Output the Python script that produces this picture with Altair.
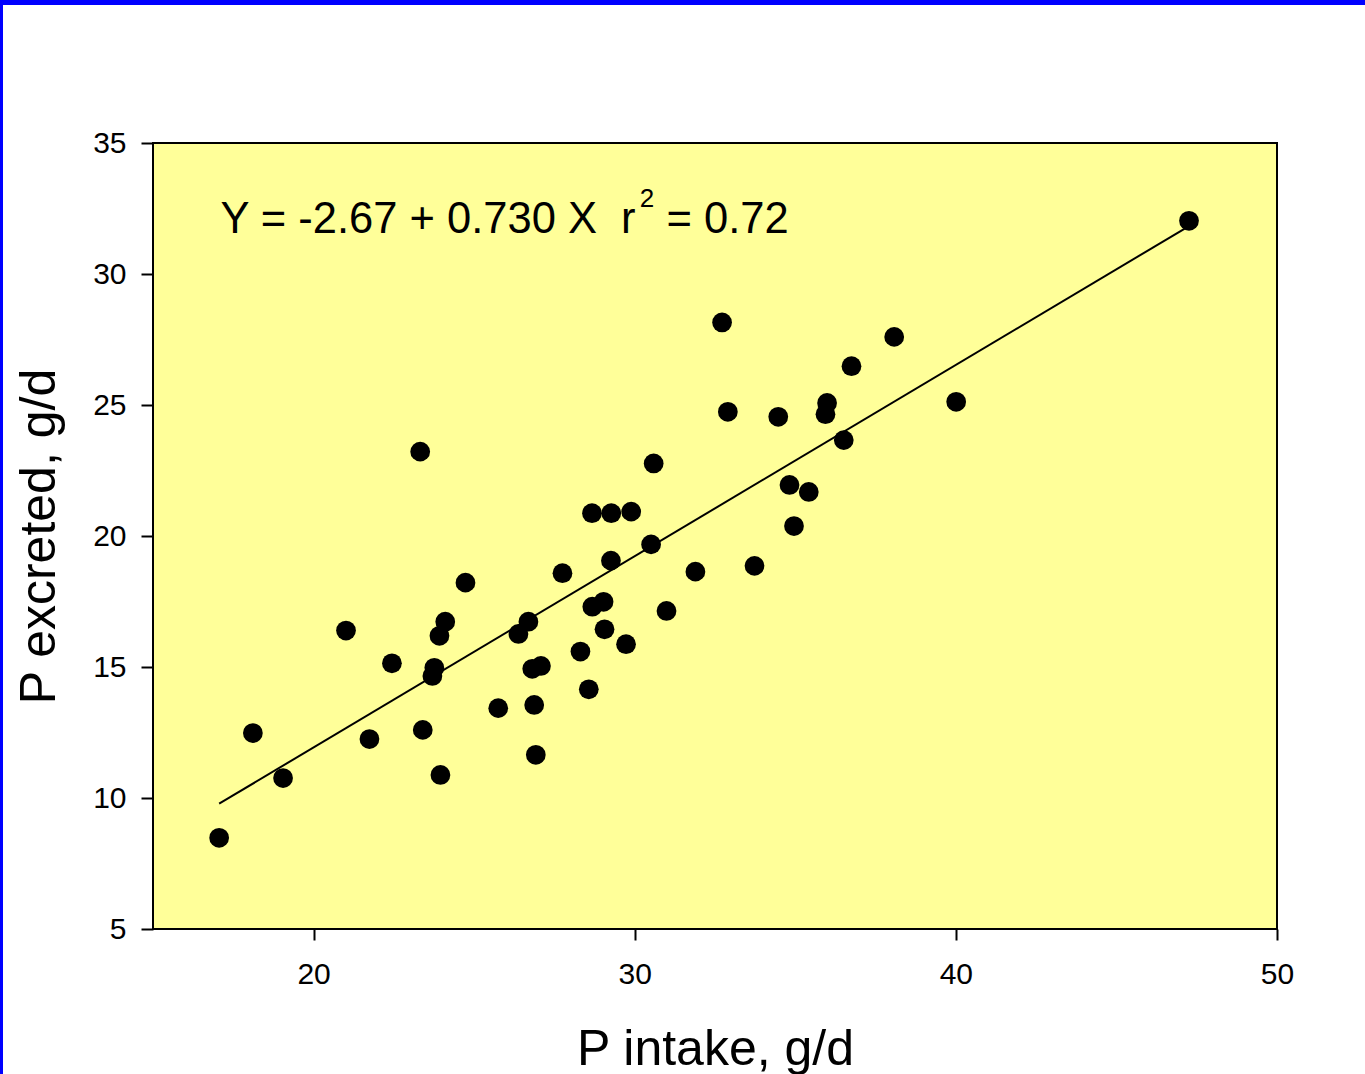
import altair as alt
import pandas as pd

# ---- data ----
p_intake = [17.06, 18.11, 19.05, 21.01, 21.74, 22.44, 23.32, 23.40, 23.76, 23.70,
            23.92, 23.95, 24.10, 24.73, 25.75, 26.38, 26.69, 26.81, 26.87, 27.08,
            26.92, 27.75, 28.31, 28.57, 28.67, 28.68, 29.03, 29.06, 29.27, 29.26,
            29.73, 29.89, 30.51, 30.59, 30.99, 31.89, 32.72, 32.90, 33.73, 34.47,
            34.82, 34.96, 35.42, 35.94, 35.99, 36.51, 36.75, 38.08, 40.01, 47.26]
p_excreted = [8.48, 12.48, 10.76, 16.39, 12.25, 15.14, 23.22, 12.60, 14.97, 14.66,
              16.19, 10.88, 16.73, 18.22, 13.43, 16.26, 16.73, 14.93, 13.55, 15.04,
              11.65, 18.58, 15.59, 14.15, 20.87, 17.30, 17.49, 16.44, 20.87, 19.06,
              15.87, 20.93, 19.68, 22.77, 17.14, 18.64, 28.15, 24.74, 18.86, 24.55,
              21.95, 20.38, 21.68, 24.65, 25.08, 23.66, 26.48, 27.60, 25.12, 32.03]

intercept = -2.67
slope = 0.730

eq_main = ["Y = -2.67 + 0.730 X\u00a0\u00a0r", "\u00a0= 0.72"]
eq_main_x = [17.10, 30.99]
eq_main_y = [31.56, 31.56]
eq_sup = ["2"]
eq_sup_x = [30.16]
eq_sup_y = [32.55]

x_ticks = [20, 30, 40, 50]
y_ticks = [5, 10, 15, 20, 25, 30, 35]

FONT = "Liberation Sans"
W, H = 1124, 786
PAD = {"left": 153, "top": 143, "right": 88, "bottom": 145}

df = pd.DataFrame({"intake": p_intake, "excreted": p_excreted})
line_df = pd.DataFrame({"intake": [min(p_intake), max(p_intake)]})
main_df = pd.DataFrame({"intake": eq_main_x, "excreted": eq_main_y, "label": eq_main})
sup_df = pd.DataFrame({"intake": eq_sup_x, "excreted": eq_sup_y, "label": eq_sup})
one = pd.DataFrame({"k": [0]})

xscale = alt.Scale(domain=[15, 50], nice=False, zero=False)
yscale = alt.Scale(domain=[5, 35], nice=False, zero=False)

X = alt.X("intake:Q", scale=xscale,
          axis=alt.Axis(values=x_ticks, title="P intake, g/d", grid=False, domain=False,
                        tickSize=11, tickWidth=2, tickColor="black", labelFlush=False,
                        labelFont=FONT, labelFontSize=30, labelColor="black", labelPadding=19,
                        titleFont=FONT, titleFontSize=50, titleFontWeight="normal",
                        titleColor="black", titleBaseline="alphabetic", titleY=135,
                        titleX=W / 2, titleAlign="center"))
Y = alt.Y("excreted:Q", scale=yscale,
          axis=alt.Axis(values=y_ticks, title="P excreted, g/d", grid=False, domain=False,
                        tickSize=12, tickWidth=2, tickColor="black", labelFlush=False,
                        labelFont=FONT, labelFontSize=30, labelColor="black", labelPadding=15,
                        titleFont=FONT, titleFontSize=50, titleFontWeight="normal",
                        titleColor="black", titleAngle=270, titleBaseline="alphabetic",
                        titleX=-99, titleY=H / 2, titleAlign="center"))

fit = alt.Chart(line_df).transform_calculate(
    excreted=f"{intercept} + {slope} * datum.intake"
).mark_line(color="black", strokeWidth=2).encode(x=X, y=Y)

points = alt.Chart(df).mark_circle(size=390, color="black", opacity=1).encode(x=X, y=Y)

eq1 = alt.Chart(main_df).mark_text(align="left", baseline="alphabetic", font=FONT,
                                   fontSize=43.5, color="black").encode(x=X, y=Y, text="label:N")
eq2 = alt.Chart(sup_df).mark_text(align="left", baseline="alphabetic", font=FONT,
                                  fontSize=26, color="black").encode(x=X, y=Y, text="label:N")

top_band = alt.Chart(one).mark_rule(color="#0000FF", strokeWidth=5).encode(
    x=alt.value(-PAD["left"]), x2=alt.value(W + PAD["right"]), y=alt.value(-PAD["top"] + 2.5))
left_band = alt.Chart(one).mark_rule(color="#0000FF", strokeWidth=3).encode(
    x=alt.value(-PAD["left"] + 1.5), y=alt.value(-PAD["top"]), y2=alt.value(H + PAD["bottom"]))

chart = alt.layer(fit, points, eq1, eq2, top_band, left_band).properties(
    width=W, height=H,
    autosize=alt.AutoSizeParams(type="none"),
    padding=PAD,
    background="white",
).configure_view(fill="#FFFF99", stroke="black", strokeWidth=2)

chart.save("out.html", embed_options={"renderer": "svg", "actions": False})
